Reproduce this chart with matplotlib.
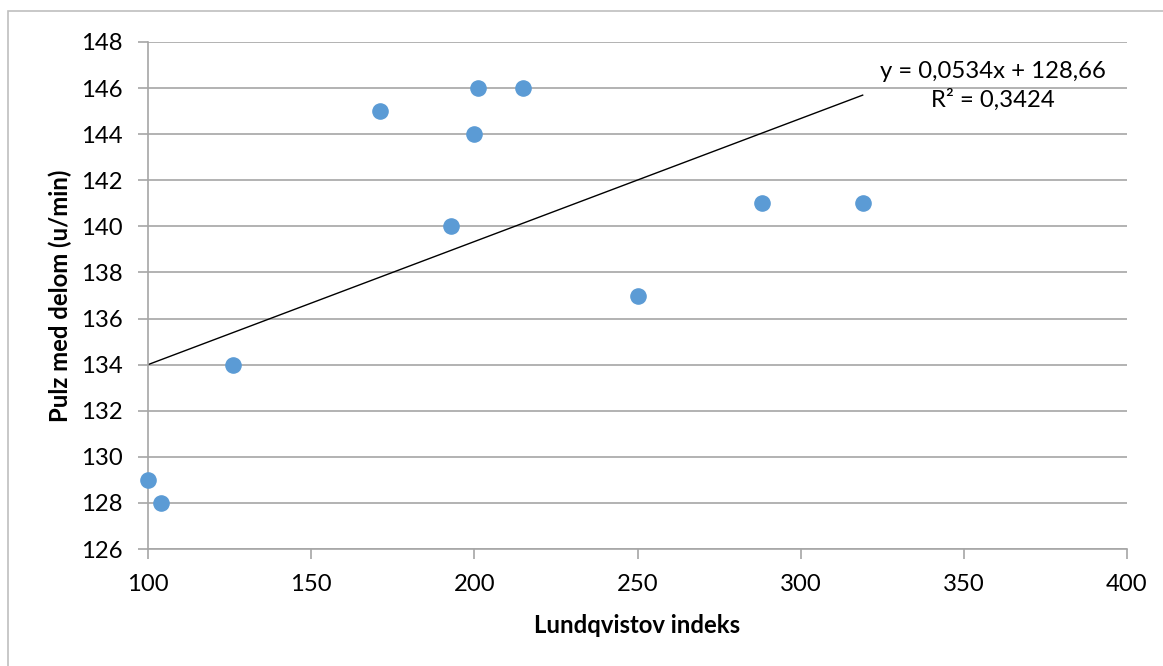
import matplotlib

matplotlib.use("Agg")
import matplotlib.pyplot as plt
import numpy as np
from matplotlib.patches import Rectangle

# Lundqvist index vs. heart rate during work
lundqvist = [100, 104, 126, 171, 193, 200, 201, 215, 250, 288, 319]
pulse = [129, 128, 134, 145, 140, 144, 146, 146, 137, 141, 141]

# linear trendline as reported
slope = 0.0534
intercept = 128.66
r_squared = 0.3424

x_ticks = [100, 150, 200, 250, 300, 350, 400]
y_ticks = [126, 128, 130, 132, 134, 136, 138, 140, 142, 144, 146, 148]

plt.rcParams["font.family"] = ["Lato", "DejaVu Sans"]

W, H = 1163, 666
FS = 17.2
fig = plt.figure(figsize=(W / 100, H / 100), dpi=100)
ax = fig.add_axes([148 / W, 1 - 549 / H, (1127 - 148) / W, (549 - 42) / H])

grey = "#A6A6A6"
ax.set_xlim(x_ticks[0], x_ticks[-1])
ax.set_ylim(y_ticks[0], y_ticks[-1])
ax.set_xticks(x_ticks)
ax.set_yticks(y_ticks)
ax.yaxis.grid(True, color=grey, linewidth=1.2)
ax.set_axisbelow(True)
for side in ("top", "right"):
    ax.spines[side].set_visible(False)
for side in ("left", "bottom"):
    ax.spines[side].set_color(grey)
    ax.spines[side].set_linewidth(1.2)
ax.tick_params(axis="both", colors=grey, length=7, width=1.2, labelsize=FS,
               labelcolor="black")
ax.tick_params(axis="x", pad=11)
ax.tick_params(axis="y", pad=11)

ax.scatter(lundqvist, pulse, s=120, color="#5B9BD5", zorder=3, clip_on=False)

xs = np.array([min(lundqvist), max(lundqvist)])
ax.plot(xs, slope * xs + intercept, color="black", linewidth=1.0, zorder=2)

eq = f"y = {slope:.4f}x + {intercept:.2f}".replace(".", ",")
r2 = f"R² = {r_squared:.4f}".replace(".", ",")
fig.text(993 / W, 1 - 86 / H, eq + "\n" + r2, ha="center", va="center",
         fontsize=FS, linespacing=1.35)

ax.set_xlabel("Lundqvistov indeks", fontsize=FS, fontweight="bold")
ax.set_ylabel("Pulz med delom (u/min)", fontsize=FS, fontweight="bold")
ax.xaxis.set_label_coords(0.5, -0.15)
ax.xaxis.label.set_va("center")
ax.yaxis.set_label_coords(-0.09, 0.5)
ax.yaxis.label.set_va("center")

# chart-area frame
fig.patches.append(Rectangle((8 / W, -0.1), 1.2, 1 - 11 / H + 0.1,
                             transform=fig.transFigure, fill=False,
                             edgecolor="#BFBFBF", linewidth=1.2))

fig.savefig("out.png", dpi=100)
